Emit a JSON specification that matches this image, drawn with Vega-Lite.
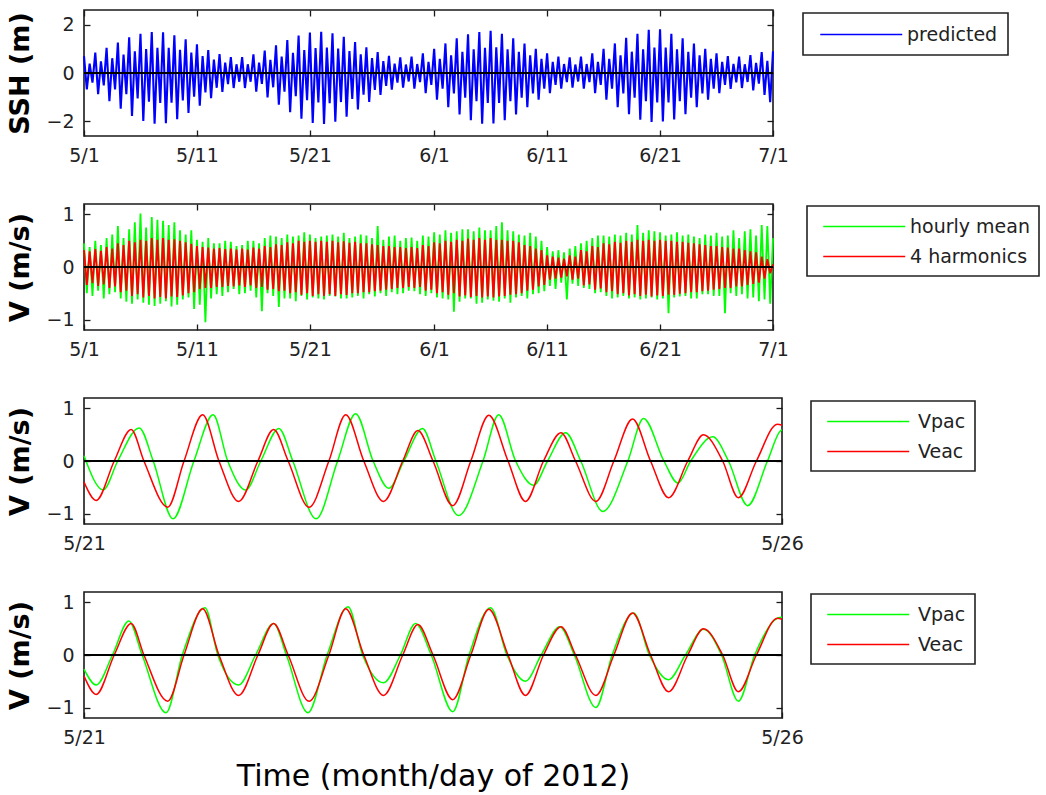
{
"$schema":"https://vega.github.io/schema/vega-lite/v6.json",
"background":"white",
"padding":{"left":6,"top":8,"right":0,"bottom":0},
"bounds":"flush",
"spacing":68,
"config":{
 "font":"DejaVu Sans",
 "view":{"stroke":"#1a1a1a","strokeWidth":1.6},
 "axis":{"domain":false,"grid":false,"tickColor":"#1a1a1a","tickSize":-6,"tickWidth":1.3,"labelFont":"DejaVu Sans","labelFontSize":19,"labelColor":"#222","labelPadding":16,"labelFlush":false,"labelOverlap":false,"titleFont":"DejaVu Sans","titleFontSize":27,"titleFontWeight":"bold","titleColor":"#000","titlePadding":11},
 "legend":{"orient":"none","title":null,"strokeColor":"#222","strokeWidth":1.6,"fillColor":"#fff","padding":9,"symbolType":"M-1,0H7","symbolSize":420,"symbolStrokeWidth":1.6,"symbolOffset":6,"labelOffset":65,"labelFont":"DejaVu Sans","labelFontSize":19,"labelColor":"#222","rowPadding":8}
},
"datasets":{
"long":[
{"d":0,"s":0.7,"g":0.45,"r":0.32},{"d":0.25,"s":-0.68,"g":-0.5,"r":-0.34},{"d":0.5,"s":0.39,"g":0.38,"r":0.3},{"d":0.75,"s":-0.4,"g":-0.55,"r":-0.31},
{"d":1,"s":0.84,"g":0.5,"r":0.34},{"d":1.25,"s":-0.87,"g":-0.45,"r":-0.36},{"d":1.5,"s":0.48,"g":0.42,"r":0.31},{"d":1.75,"s":-0.51,"g":-0.6,"r":-0.33},
{"d":2,"s":1.04,"g":0.55,"r":0.38},{"d":2.25,"s":-1.16,"g":-0.52,"r":-0.4},{"d":2.5,"s":0.61,"g":0.62,"r":0.35},{"d":2.75,"s":-0.68,"g":-0.48,"r":-0.37},
{"d":3,"s":1.26,"g":0.78,"r":0.45},{"d":3.25,"s":-1.47,"g":-0.6,"r":-0.48},{"d":3.5,"s":0.76,"g":0.55,"r":0.42},{"d":3.75,"s":-0.87,"g":-0.66,"r":-0.45},
{"d":4,"s":1.47,"g":0.72,"r":0.5},{"d":4.25,"s":-1.77,"g":-0.7,"r":-0.55},{"d":4.5,"s":0.9,"g":0.85,"r":0.47},{"d":4.75,"s":-1.05,"g":-0.62,"r":-0.52},
{"d":5,"s":1.62,"g":1.02,"r":0.52},{"d":5.25,"s":-1.98,"g":-0.68,"r":-0.58},{"d":5.5,"s":0.99,"g":0.75,"r":0.5},{"d":5.75,"s":-1.18,"g":-0.72,"r":-0.55},
{"d":6,"s":1.69,"g":0.95,"r":0.55},{"d":6.25,"s":-2.09,"g":-0.74,"r":-0.6},{"d":6.5,"s":1.04,"g":0.9,"r":0.52},{"d":6.75,"s":-1.24,"g":-0.7,"r":-0.57},
{"d":7,"s":1.68,"g":0.88,"r":0.55},{"d":7.25,"s":-2.07,"g":-0.65,"r":-0.6},{"d":7.5,"s":1.04,"g":0.8,"r":0.52},{"d":7.75,"s":-1.23,"g":-0.75,"r":-0.56},
{"d":8,"s":1.56,"g":0.85,"r":0.53},{"d":8.25,"s":-1.91,"g":-0.72,"r":-0.57},{"d":8.5,"s":0.96,"g":0.7,"r":0.5},{"d":8.75,"s":-1.13,"g":-0.62,"r":-0.54},
{"d":9,"s":1.39,"g":0.62,"r":0.47},{"d":9.25,"s":-1.65,"g":-0.58,"r":-0.5},{"d":9.5,"s":0.84,"g":0.7,"r":0.44},{"d":9.75,"s":-0.98,"g":-0.8,"r":-0.48},
{"d":10,"s":1.18,"g":0.52,"r":0.4},{"d":10.25,"s":-1.35,"g":-0.72,"r":-0.42},{"d":10.5,"s":0.7,"g":0.48,"r":0.38},{"d":10.75,"s":-0.8,"g":-1.05,"r":-0.4},
{"d":11,"s":0.95,"g":0.55,"r":0.37},{"d":11.25,"s":-1.04,"g":-0.6,"r":-0.4},{"d":11.5,"s":0.55,"g":0.45,"r":0.35},{"d":11.75,"s":-0.61,"g":-0.52,"r":-0.38},
{"d":12,"s":0.78,"g":0.45,"r":0.36},{"d":12.25,"s":-0.78,"g":-0.55,"r":-0.38},{"d":12.5,"s":0.43,"g":0.5,"r":0.34},{"d":12.75,"s":-0.46,"g":-0.48,"r":-0.36},
{"d":13,"s":0.66,"g":0.48,"r":0.35},{"d":13.25,"s":-0.62,"g":-0.42,"r":-0.37},{"d":13.5,"s":0.36,"g":0.4,"r":0.33},{"d":13.75,"s":-0.36,"g":-0.52,"r":-0.35},
{"d":14,"s":0.66,"g":0.42,"r":0.35},{"d":14.25,"s":-0.62,"g":-0.5,"r":-0.38},{"d":14.5,"s":0.36,"g":0.5,"r":0.33},{"d":14.75,"s":-0.36,"g":-0.45,"r":-0.35},
{"d":15,"s":0.77,"g":0.5,"r":0.37},{"d":15.25,"s":-0.77,"g":-0.58,"r":-0.4},{"d":15.5,"s":0.43,"g":0.45,"r":0.35},{"d":15.75,"s":-0.45,"g":-0.84,"r":-0.38},
{"d":16,"s":0.93,"g":0.55,"r":0.4},{"d":16.25,"s":-1.01,"g":-0.5,"r":-0.43},{"d":16.5,"s":0.54,"g":0.6,"r":0.38},{"d":16.75,"s":-0.59,"g":-0.55,"r":-0.42},
{"d":17,"s":1.14,"g":0.58,"r":0.43},{"d":17.25,"s":-1.31,"g":-0.76,"r":-0.46},{"d":17.5,"s":0.68,"g":0.55,"r":0.42},{"d":17.75,"s":-0.77,"g":-0.6,"r":-0.45},
{"d":18,"s":1.36,"g":0.62,"r":0.47},{"d":18.25,"s":-1.62,"g":-0.6,"r":-0.5},{"d":18.5,"s":0.83,"g":0.58,"r":0.45},{"d":18.75,"s":-0.96,"g":-0.65,"r":-0.48},
{"d":19,"s":1.55,"g":0.6,"r":0.5},{"d":19.25,"s":-1.89,"g":-0.55,"r":-0.53},{"d":19.5,"s":0.95,"g":0.66,"r":0.48},{"d":19.75,"s":-1.12,"g":-0.62,"r":-0.5},
{"d":20,"s":1.67,"g":0.62,"r":0.5},{"d":20.25,"s":-2.06,"g":-0.58,"r":-0.55},{"d":20.5,"s":1.03,"g":0.55,"r":0.48},{"d":20.75,"s":-1.22,"g":-0.6,"r":-0.52},
{"d":21,"s":1.7,"g":0.58,"r":0.5},{"d":21.25,"s":-2.1,"g":-0.62,"r":-0.55},{"d":21.5,"s":1.05,"g":0.6,"r":0.48},{"d":21.75,"s":-1.25,"g":-0.55,"r":-0.52},
{"d":22,"s":1.64,"g":0.62,"r":0.5},{"d":22.25,"s":-2.01,"g":-0.56,"r":-0.55},{"d":22.5,"s":1.01,"g":0.58,"r":0.47},{"d":22.75,"s":-1.2,"g":-0.6,"r":-0.52},
{"d":23,"s":1.49,"g":0.65,"r":0.49},{"d":23.25,"s":-1.8,"g":-0.6,"r":-0.53},{"d":23.5,"s":0.91,"g":0.55,"r":0.46},{"d":23.75,"s":-1.07,"g":-0.58,"r":-0.5},
{"d":24,"s":1.28,"g":0.58,"r":0.48},{"d":24.25,"s":-1.5,"g":-0.55,"r":-0.5},{"d":24.5,"s":0.77,"g":0.62,"r":0.45},{"d":24.75,"s":-0.89,"g":-0.6,"r":-0.48},
{"d":25,"s":1.06,"g":0.6,"r":0.45},{"d":25.25,"s":-1.19,"g":-0.52,"r":-0.48},{"d":25.5,"s":0.62,"g":0.55,"r":0.43},{"d":25.75,"s":-0.7,"g":-0.56,"r":-0.46},
{"d":26,"s":0.86,"g":0.78,"r":0.42},{"d":26.25,"s":-0.9,"g":-0.5,"r":-0.45},{"d":26.5,"s":0.49,"g":0.52,"r":0.4},{"d":26.75,"s":-0.53,"g":-0.55,"r":-0.43},
{"d":27,"s":0.71,"g":0.58,"r":0.4},{"d":27.25,"s":-0.69,"g":-0.48,"r":-0.42},{"d":27.5,"s":0.39,"g":0.6,"r":0.38},{"d":27.75,"s":-0.4,"g":-0.52,"r":-0.4},
{"d":28,"s":0.65,"g":0.5,"r":0.38},{"d":28.25,"s":-0.6,"g":-0.5,"r":-0.4},{"d":28.5,"s":0.35,"g":0.55,"r":0.36},{"d":28.75,"s":-0.35,"g":-0.45,"r":-0.38},
{"d":29,"s":0.68,"g":0.56,"r":0.38},{"d":29.25,"s":-0.65,"g":-0.46,"r":-0.4},{"d":29.5,"s":0.37,"g":0.5,"r":0.36},{"d":29.75,"s":-0.38,"g":-0.52,"r":-0.38},
{"d":30,"s":0.81,"g":0.6,"r":0.42},{"d":30.25,"s":-0.83,"g":-0.55,"r":-0.45},{"d":30.5,"s":0.46,"g":0.58,"r":0.4},{"d":30.75,"s":-0.49,"g":-0.5,"r":-0.43},
{"d":31,"s":1.0,"g":0.66,"r":0.47},{"d":31.25,"s":-1.1,"g":-0.58,"r":-0.5},{"d":31.5,"s":0.58,"g":0.62,"r":0.45},{"d":31.75,"s":-0.65,"g":-0.6,"r":-0.48},
{"d":32,"s":1.22,"g":0.7,"r":0.5},{"d":32.25,"s":-1.41,"g":-0.62,"r":-0.53},{"d":32.5,"s":0.73,"g":0.65,"r":0.48},{"d":32.75,"s":-0.84,"g":-0.85,"r":-0.5},
{"d":33,"s":1.43,"g":0.68,"r":0.52},{"d":33.25,"s":-1.71,"g":-0.66,"r":-0.56},{"d":33.5,"s":0.87,"g":0.72,"r":0.5},{"d":33.75,"s":-1.02,"g":-0.6,"r":-0.54},
{"d":34,"s":1.6,"g":0.72,"r":0.54},{"d":34.25,"s":-1.95,"g":-0.6,"r":-0.57},{"d":34.5,"s":0.98,"g":0.68,"r":0.52},{"d":34.75,"s":-1.16,"g":-0.7,"r":-0.55},
{"d":35,"s":1.69,"g":0.75,"r":0.55},{"d":35.25,"s":-2.09,"g":-0.68,"r":-0.58},{"d":35.5,"s":1.04,"g":0.7,"r":0.52},{"d":35.75,"s":-1.24,"g":-0.62,"r":-0.56},
{"d":36,"s":1.74,"g":0.7,"r":0.55},{"d":36.25,"s":-2.08,"g":-0.64,"r":-0.58},{"d":36.5,"s":1.06,"g":0.78,"r":0.52},{"d":36.75,"s":-1.24,"g":-0.66,"r":-0.56},
{"d":37,"s":1.62,"g":0.85,"r":0.52},{"d":37.25,"s":-1.95,"g":-0.6,"r":-0.55},{"d":37.5,"s":0.98,"g":0.7,"r":0.5},{"d":37.75,"s":-1.16,"g":-0.68,"r":-0.53},
{"d":38,"s":1.43,"g":0.68,"r":0.5},{"d":38.25,"s":-1.71,"g":-0.58,"r":-0.52},{"d":38.5,"s":0.87,"g":0.62,"r":0.47},{"d":38.75,"s":-1.02,"g":-0.55,"r":-0.5},
{"d":39,"s":1.22,"g":0.6,"r":0.42},{"d":39.25,"s":-1.41,"g":-0.6,"r":-0.45},{"d":39.5,"s":0.73,"g":0.65,"r":0.4},{"d":39.75,"s":-0.84,"g":-0.52,"r":-0.43},
{"d":40,"s":1.0,"g":0.58,"r":0.35},{"d":40.25,"s":-1.1,"g":-0.5,"r":-0.37},{"d":40.5,"s":0.58,"g":0.5,"r":0.32},{"d":40.75,"s":-0.65,"g":-0.46,"r":-0.34},
{"d":41,"s":0.81,"g":0.38,"r":0.22},{"d":41.25,"s":-0.83,"g":-0.36,"r":-0.24},{"d":41.5,"s":0.46,"g":0.3,"r":0.2},{"d":41.75,"s":-0.49,"g":-0.42,"r":-0.22},
{"d":42,"s":0.68,"g":0.32,"r":0.18},{"d":42.25,"s":-0.65,"g":-0.3,"r":-0.2},{"d":42.5,"s":0.37,"g":0.28,"r":0.16},{"d":42.75,"s":-0.38,"g":-0.62,"r":-0.18},
{"d":43,"s":0.65,"g":0.35,"r":0.22},{"d":43.25,"s":-0.6,"g":-0.32,"r":-0.24},{"d":43.5,"s":0.35,"g":0.4,"r":0.2},{"d":43.75,"s":-0.35,"g":-0.36,"r":-0.22},
{"d":44,"s":0.68,"g":0.45,"r":0.32},{"d":44.25,"s":-0.65,"g":-0.4,"r":-0.35},{"d":44.5,"s":0.37,"g":0.5,"r":0.3},{"d":44.75,"s":-0.38,"g":-0.42,"r":-0.33},
{"d":45,"s":0.81,"g":0.55,"r":0.4},{"d":45.25,"s":-0.83,"g":-0.5,"r":-0.43},{"d":45.5,"s":0.46,"g":0.6,"r":0.38},{"d":45.75,"s":-0.49,"g":-0.48,"r":-0.41},
{"d":46,"s":1.0,"g":0.6,"r":0.45},{"d":46.25,"s":-1.1,"g":-0.55,"r":-0.48},{"d":46.5,"s":0.58,"g":0.58,"r":0.43},{"d":46.75,"s":-0.65,"g":-0.6,"r":-0.46},
{"d":47,"s":1.22,"g":0.62,"r":0.48},{"d":47.25,"s":-1.41,"g":-0.58,"r":-0.52},{"d":47.5,"s":0.73,"g":0.6,"r":0.46},{"d":47.75,"s":-0.84,"g":-0.55,"r":-0.5},
{"d":48,"s":1.45,"g":0.65,"r":0.5},{"d":48.25,"s":-1.7,"g":-0.6,"r":-0.54},{"d":48.5,"s":0.88,"g":0.62,"r":0.48},{"d":48.75,"s":-1.02,"g":-0.58,"r":-0.52},
{"d":49,"s":1.62,"g":0.8,"r":0.52},{"d":49.25,"s":-1.93,"g":-0.62,"r":-0.55},{"d":49.5,"s":0.98,"g":0.65,"r":0.5},{"d":49.75,"s":-1.16,"g":-0.6,"r":-0.53},
{"d":50,"s":1.78,"g":0.7,"r":0.52},{"d":50.25,"s":-2.02,"g":-0.58,"r":-0.56},{"d":50.5,"s":1.05,"g":0.68,"r":0.5},{"d":50.75,"s":-1.22,"g":-0.62,"r":-0.54},
{"d":51,"s":1.8,"g":0.66,"r":0.52},{"d":51.25,"s":-2.0,"g":-0.6,"r":-0.55},{"d":51.5,"s":1.05,"g":0.6,"r":0.5},{"d":51.75,"s":-1.22,"g":-0.88,"r":-0.53},
{"d":52,"s":1.62,"g":0.62,"r":0.5},{"d":52.25,"s":-1.92,"g":-0.58,"r":-0.53},{"d":52.5,"s":0.98,"g":0.66,"r":0.48},{"d":52.75,"s":-1.16,"g":-0.56,"r":-0.51},
{"d":53,"s":1.43,"g":0.6,"r":0.48},{"d":53.25,"s":-1.7,"g":-0.55,"r":-0.5},{"d":53.5,"s":0.87,"g":0.62,"r":0.46},{"d":53.75,"s":-1.02,"g":-0.6,"r":-0.48},
{"d":54,"s":1.22,"g":0.58,"r":0.45},{"d":54.25,"s":-1.41,"g":-0.6,"r":-0.48},{"d":54.5,"s":0.73,"g":0.55,"r":0.43},{"d":54.75,"s":-0.84,"g":-0.52,"r":-0.46},
{"d":55,"s":1.0,"g":0.62,"r":0.42},{"d":55.25,"s":-1.1,"g":-0.52,"r":-0.45},{"d":55.5,"s":0.58,"g":0.6,"r":0.4},{"d":55.75,"s":-0.65,"g":-0.55,"r":-0.43},
{"d":56,"s":0.81,"g":0.65,"r":0.4},{"d":56.25,"s":-0.83,"g":-0.55,"r":-0.42},{"d":56.5,"s":0.46,"g":0.58,"r":0.38},{"d":56.75,"s":-0.49,"g":-0.88,"r":-0.4},
{"d":57,"s":0.7,"g":0.6,"r":0.37},{"d":57.25,"s":-0.66,"g":-0.5,"r":-0.4},{"d":57.5,"s":0.38,"g":0.7,"r":0.35},{"d":57.75,"s":-0.39,"g":-0.55,"r":-0.37},
{"d":58,"s":0.68,"g":0.55,"r":0.35},{"d":58.25,"s":-0.62,"g":-0.52,"r":-0.37},{"d":58.5,"s":0.36,"g":0.68,"r":0.32},{"d":58.75,"s":-0.37,"g":-0.6,"r":-0.34},
{"d":59,"s":0.74,"g":0.72,"r":0.3},{"d":59.25,"s":-0.72,"g":-0.58,"r":-0.32},{"d":59.5,"s":0.42,"g":0.6,"r":0.28},{"d":59.75,"s":-0.44,"g":-0.65,"r":-0.3},
{"d":60,"s":0.86,"g":0.8,"r":0.2},{"d":60.25,"s":-0.9,"g":-0.62,"r":-0.22},{"d":60.5,"s":0.5,"g":0.78,"r":0.15},{"d":60.75,"s":-1.2,"g":-0.7,"r":-0.12},
{"d":61,"s":0.9,"g":0.55,"r":0.05}
],
"veac":[
{"h":0,"v":-0.4},{"h":2.1,"v":-0.75},{"h":5.2,"v":0},{"h":8.1,"v":0.6},{"h":10.3,"v":0},{"h":14.4,"v":-0.88},{"h":17.2,"v":0},{"h":20.4,"v":0.88},{"h":23.2,"v":0},{"h":26.6,"v":-0.77},{"h":29.9,"v":0},{"h":32.6,"v":0.6},{"h":35.1,"v":0},{"h":38.7,"v":-0.88},{"h":42.1,"v":0},{"h":45.0,"v":0.88},{"h":48.1,"v":0},{"h":51.5,"v":-0.77},{"h":54.8,"v":0},{"h":57.4,"v":0.58},{"h":60.0,"v":0},{"h":63.4,"v":-0.85},{"h":66.5,"v":0},{"h":69.6,"v":0.87},{"h":72.9,"v":0},{"h":75.9,"v":-0.77},{"h":79.0,"v":0},{"h":82.0,"v":0.54},{"h":84.5,"v":0},{"h":88.0,"v":-0.77},{"h":91.1,"v":0},{"h":94.3,"v":0.8},{"h":97.4,"v":0},{"h":100.5,"v":-0.7},{"h":103.8,"v":0},{"h":106.5,"v":0.5},{"h":109.8,"v":0},{"h":112.5,"v":-0.7},{"h":115.6,"v":0},{"h":119.2,"v":0.7},{"h":120,"v":0.68}
],
"vpac3":[
{"h":0,"v":0.1},{"h":3.3,"v":-0.55},{"h":5.8,"v":0},{"h":9.5,"v":0.63},{"h":11.9,"v":0},{"h":15.3,"v":-1.1},{"h":18.9,"v":0},{"h":22.2,"v":0.88},{"h":24.7,"v":0},{"h":27.8,"v":-0.55},{"h":30.4,"v":0},{"h":33.5,"v":0.62},{"h":35.9,"v":0},{"h":39.9,"v":-1.1},{"h":43.6,"v":0},{"h":46.7,"v":0.9},{"h":49.7,"v":0},{"h":52.4,"v":-0.52},{"h":55.0,"v":0},{"h":58.2,"v":0.62},{"h":60.5,"v":0},{"h":64.4,"v":-1.04},{"h":68.6,"v":0},{"h":71.3,"v":0.88},{"h":74.2,"v":0},{"h":77.3,"v":-0.46},{"h":79.7,"v":0},{"h":82.8,"v":0.54},{"h":85.4,"v":0},{"h":89.2,"v":-0.96},{"h":93.5,"v":0},{"h":96.2,"v":0.81},{"h":99.7,"v":0},{"h":102.1,"v":-0.42},{"h":104.3,"v":0},{"h":108.1,"v":0.46},{"h":110.8,"v":0},{"h":114.1,"v":-0.85},{"h":117.5,"v":0},{"h":119.8,"v":0.58},{"h":120,"v":0.59}
],
"vpac4":[
{"h":0,"v":-0.27},{"h":2.1,"v":-0.57},{"h":4.9,"v":0},{"h":7.7,"v":0.65},{"h":10.0,"v":0},{"h":14.1,"v":-1.1},{"h":16.9,"v":0},{"h":20.8,"v":0.9},{"h":23.0,"v":0},{"h":26.6,"v":-0.57},{"h":29.5,"v":0},{"h":32.6,"v":0.6},{"h":34.8,"v":0},{"h":38.5,"v":-1.1},{"h":41.8,"v":0},{"h":45.4,"v":0.92},{"h":47.9,"v":0},{"h":51.5,"v":-0.53},{"h":54.4,"v":0},{"h":57.0,"v":0.6},{"h":59.7,"v":0},{"h":63.4,"v":-1.08},{"h":66.2,"v":0},{"h":69.9,"v":0.9},{"h":72.7,"v":0},{"h":75.9,"v":-0.5},{"h":78.6,"v":0},{"h":81.8,"v":0.54},{"h":84.3,"v":0},{"h":88.0,"v":-1.0},{"h":90.8,"v":0},{"h":94.5,"v":0.8},{"h":97.2,"v":0},{"h":100.5,"v":-0.47},{"h":103.4,"v":0},{"h":106.5,"v":0.49},{"h":109.6,"v":0},{"h":112.5,"v":-0.88},{"h":115.3,"v":0},{"h":119.8,"v":0.72},{"h":120,"v":0.72}
]
},
"vconcat":[
{
 "width":689,"height":126,
 "data":{"name":"long"},
 "layer":[
  {"mark":{"type":"line","strokeWidth":2.1},
   "encoding":{
    "x":{"field":"d","type":"quantitative","scale":{"domain":[0,61],"nice":false,"zero":false},"axis":{"values":[0,10,20,31,41,51,61],"labelExpr":"['5/1','5/11','5/21','6/1','6/11','6/21','7/1'][indexof([0,10,20,31,41,51,61],datum.value)]","title":null}},
    "y":{"field":"s","type":"quantitative","scale":{"domain":[-2.6,2.6],"nice":false},"axis":{"values":[-2,0,2],"title":"SSH (m)"}},
    "color":{"datum":"predicted","scale":{"domain":["predicted"],"range":["#0000ff"]},"legend":{"legendX":719,"legendY":3,"padding":10}}
   }},
  {"mark":{"type":"rule","color":"#000","strokeWidth":1.8},"encoding":{"y":{"datum":0,"axis":null}}},
  {"data":{"values":[{}]},"mark":{"type":"point","opacity":0},
   "encoding":{
    "x":{"datum":0,"axis":{"orient":"top","values":[0,10,20,31,41,51,61],"labels":false,"title":null}},
    "y":{"datum":0,"axis":{"orient":"right","values":[-2,0,2],"labels":false,"title":null}}
   }}
 ],
 "resolve":{"axis":{"x":"independent","y":"independent"}}
},
{
 "width":689,"height":126,
 "data":{"name":"long"},
 "layer":[
  {"mark":{"type":"line","strokeWidth":1.8},
   "encoding":{
    "x":{"field":"d","type":"quantitative","scale":{"domain":[0,61],"nice":false,"zero":false},"axis":{"values":[0,10,20,31,41,51,61],"labelExpr":"['5/1','5/11','5/21','6/1','6/11','6/21','7/1'][indexof([0,10,20,31,41,51,61],datum.value)]","title":null}},
    "y":{"field":"g","type":"quantitative","scale":{"domain":[-1.2,1.2],"nice":false},"axis":{"values":[-1,0,1],"title":"V (m/s)"}},
    "color":{"datum":"hourly mean","scale":{"domain":["hourly mean","4 harmonics"],"range":["#00ff00","#ff0000"]},"legend":{"legendX":723,"legendY":2}}
   }},
  {"mark":{"type":"line","strokeWidth":1.9},
   "encoding":{
    "x":{"field":"d","type":"quantitative","axis":null},
    "y":{"field":"r","type":"quantitative","axis":null},
    "color":{"datum":"4 harmonics"}
   }},
  {"mark":{"type":"rule","color":"#000","strokeWidth":1.8},"encoding":{"y":{"datum":0,"axis":null}}},
  {"data":{"values":[{}]},"mark":{"type":"point","opacity":0},
   "encoding":{
    "x":{"datum":0,"axis":{"orient":"top","values":[0,10,20,31,41,51,61],"labels":false,"title":null}},
    "y":{"datum":0,"axis":{"orient":"right","values":[-1,0,1],"labels":false,"title":null}}
   }}
 ],
 "resolve":{"axis":{"x":"independent","y":"independent"}}
},
{
 "width":698,"height":126,
 "layer":[
  {"data":{"name":"vpac3"},"mark":{"type":"line","strokeWidth":1.5,"interpolate":"monotone"},
   "encoding":{
    "x":{"field":"h","type":"quantitative","scale":{"domain":[0,120],"nice":false,"zero":false},"axis":{"values":[0,120],"labelExpr":"datum.value==0?'5/21':'5/26'","title":null}},
    "y":{"field":"v","type":"quantitative","scale":{"domain":[-1.2,1.2],"nice":false},"axis":{"values":[-1,0,1],"title":"V (m/s)"}},
    "color":{"datum":"Vpac","scale":{"domain":["Vpac","Veac"],"range":["#00ff00","#ff0000"]},"legend":{"legendX":727,"legendY":3,"labelOffset":69}}
   }},
  {"data":{"name":"veac"},"mark":{"type":"line","strokeWidth":1.5,"interpolate":"monotone"},
   "encoding":{
    "x":{"field":"h","type":"quantitative","axis":null},
    "y":{"field":"v","type":"quantitative","axis":null},
    "color":{"datum":"Veac"}
   }},
  {"data":{"values":[{}]},"mark":{"type":"rule","color":"#000","strokeWidth":1.8},"encoding":{"y":{"datum":0,"axis":null}}},
  {"data":{"values":[{}]},"mark":{"type":"point","opacity":0},
   "encoding":{
    "y":{"datum":0,"axis":{"orient":"right","values":[-1,0,1],"labels":false,"title":null}}
   }}
 ],
 "resolve":{"axis":{"x":"independent","y":"independent"}}
},
{
 "width":698,"height":126,
 "layer":[
  {"data":{"name":"vpac4"},"mark":{"type":"line","strokeWidth":1.5,"interpolate":"monotone"},
   "encoding":{
    "x":{"field":"h","type":"quantitative","scale":{"domain":[0,120],"nice":false,"zero":false},"axis":{"values":[0,120],"labelExpr":"datum.value==0?'5/21':'5/26'","title":"Time (month/day of 2012)","titleFontSize":30,"titleFontWeight":"normal","titlePadding":14}},
    "y":{"field":"v","type":"quantitative","scale":{"domain":[-1.2,1.2],"nice":false},"axis":{"values":[-1,0,1],"title":"V (m/s)"}},
    "color":{"datum":"Vpac","scale":{"domain":["Vpac","Veac"],"range":["#00ff00","#ff0000"]},"legend":{"legendX":727,"legendY":2,"labelOffset":69}}
   }},
  {"data":{"name":"veac"},"mark":{"type":"line","strokeWidth":1.5,"interpolate":"monotone"},
   "encoding":{
    "x":{"field":"h","type":"quantitative","axis":null},
    "y":{"field":"v","type":"quantitative","axis":null},
    "color":{"datum":"Veac"}
   }},
  {"data":{"values":[{}]},"mark":{"type":"rule","color":"#000","strokeWidth":1.8},"encoding":{"y":{"datum":0,"axis":null}}},
  {"data":{"values":[{}]},"mark":{"type":"point","opacity":0},
   "encoding":{
    "y":{"datum":0,"axis":{"orient":"right","values":[-1,0,1],"labels":false,"title":null}}
   }}
 ],
 "resolve":{"axis":{"x":"independent","y":"independent"}}
}
],
"resolve":{"scale":{"color":"independent"},"legend":{"color":"independent"}}
}
